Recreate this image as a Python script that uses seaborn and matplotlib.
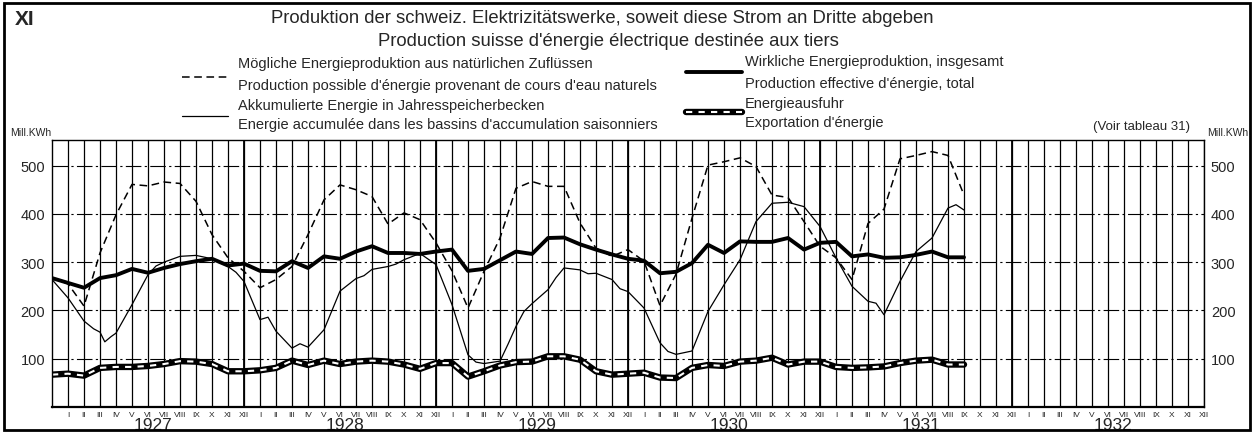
import numpy as np
import pandas as pd
import matplotlib
matplotlib.use("Agg")
import matplotlib.pyplot as plt
import matplotlib.transforms as mtransforms
from matplotlib.patches import Rectangle
import seaborn as sns

# month index: 0 = Dec 1926, 1 = Jan 1927 ... 57 = Sep 1931
months = list(range(58))

possible = [268, 255, 209, 319, 398, 461, 458, 466, 463, 426, 357, 309,
            281, 247, 264, 291, 357, 429, 460, 450, 436, 379, 402, 388,
            340, 282, 205, 281, 350, 453, 467, 457, 457, 381, 329, 312,
            326, 302, 210, 275, 391, 501, 508, 516, 498, 439, 434, 384,
            333, 309, 264, 380, 410, 514, 521, 529, 521, 439]

total = [267, 257, 247, 267, 273, 286, 278, 288, 296, 302, 307, 293,
         297, 282, 281, 302, 288, 312, 307, 322, 333, 319, 319, 317,
         322, 326, 282, 286, 304, 322, 317, 350, 351, 337, 326, 316,
         307, 303, 277, 280, 298, 336, 319, 343, 342, 342, 350, 326,
         340, 342, 312, 316, 309, 310, 315, 322, 310, 310]

export = [67, 69, 65, 81, 83, 83, 85, 89, 95, 94, 89, 74,
          74, 76, 81, 96, 87, 96, 89, 94, 96, 94, 88, 79,
          91, 91, 63, 74, 86, 93, 94, 105, 105, 98, 74, 67,
          69, 71, 61, 60, 81, 87, 85, 94, 96, 102, 88, 94,
          94, 83, 81, 82, 84, 91, 96, 98, 88, 88]

# accumulated energy is drawn at a finer (semi-monthly) resolution
acc_x = [0, 1, 2, 2.6, 3, 3.3, 3.7, 4, 5, 6, 6.5, 7, 8, 9, 10, 11, 11.5, 12,
         13, 13.5, 14, 15, 15.5, 16, 17, 18, 19, 19.5, 20, 21, 21.5, 22, 23,
         24, 25, 26, 26.5, 27, 28, 28.5, 29, 29.5, 30, 31, 31.5, 32, 33, 33.5,
         34, 35, 35.5, 36, 37, 38, 38.5, 39, 40, 41, 42, 43, 44, 45, 46, 47,
         48, 49, 50, 51, 51.5, 52, 53, 54, 55, 56, 56.5, 57]
acc_val = [264, 226, 178, 162, 155, 135, 146, 153, 212, 274, 292, 300, 312,
           314, 307, 291, 279, 260, 181, 186, 157, 122, 131, 124, 160, 240,
           266, 272, 285, 291, 296, 305, 318, 295, 212, 108, 93, 90, 95, 130,
           167, 198, 214, 243, 268, 288, 284, 276, 277, 264, 245, 239, 205,
           133, 115, 109, 116, 198, 253, 305, 384, 422, 424, 415, 374, 309,
           250, 219, 215, 191, 260, 322, 350, 412, 419, 408]

roman = ["I", "II", "III", "IV", "V", "VI", "VII", "VIII", "IX", "X", "XI", "XII"]
years = [1927, 1928, 1929, 1930, 1931, 1932]
y_ticks = [100, 200, 300, 400, 500]

df = pd.DataFrame({"month": months, "possible": possible,
                   "total": total, "export": export})
acc = pd.DataFrame({"month": acc_x, "value": acc_val})

sns.set_theme(style="white")
plt.rcParams["font.family"] = ["Liberation Sans", "DejaVu Sans"]

fig = plt.figure(figsize=(12.54, 4.35), dpi=100)
ax = fig.add_axes([52 / 1254, 27 / 435, 1152 / 1254, 267 / 435])

sns.lineplot(data=df, x="month", y="possible", ax=ax, color="black",
             lw=1.1, linestyle=(0, (5, 3)), estimator=None, sort=False)
sns.lineplot(data=acc, x="month", y="value", ax=ax, color="black",
             lw=0.9, estimator=None, sort=False)
sns.lineplot(data=df, x="month", y="total", ax=ax, color="black",
             lw=2.8, estimator=None, sort=False)
sns.lineplot(data=df, x="month", y="export", ax=ax, color="black",
             lw=4.6, estimator=None, sort=False)
sns.lineplot(data=df, x="month", y="export", ax=ax, color="white",
             lw=1.5, linestyle=(0, (3, 3)), estimator=None, sort=False)

ax.set_xlim(0, 72)
ax.set_ylim(0, 553)
ax.set_xlabel("")
ax.set_ylabel("")

# month grid and labels
ax.set_xticks(range(1, 73))
ax.set_xticklabels(roman * 6, fontsize=6)
ax.xaxis.grid(True, color="black", lw=0.9)
for m in range(12, 72, 12):
    ax.axvline(m, color="black", lw=1.3, zorder=1)
ax.set_yticks(y_ticks)
ax.set_yticklabels([str(v) for v in y_ticks], fontsize=10.5)
ax.yaxis.grid(True, color="black", lw=0.8, linestyle=(0, (14, 3, 2, 3)))
ax.tick_params(axis="both", length=0)
ax.tick_params(axis="x", pad=3)
ax.tick_params(axis="y", pad=5, labelright=True)
for s in ax.spines.values():
    s.set_color("black")
    s.set_linewidth(1.0)
ax.spines["bottom"].set_linewidth(1.6)

trans = mtransforms.blended_transform_factory(ax.transData, ax.transAxes)
for i, yr in enumerate(years):
    ax.text(12 * i + 6.3, -0.038, str(yr), transform=trans, ha="center",
            va="top", fontsize=12.5)

# header texts
fig.text(0.012, 0.955, "XI", fontsize=15, fontweight="bold", va="center")
fig.text(602 / 1254, 0.958, "Produktion der schweiz. Elektrizitätswerke, soweit diese Strom an Dritte abgeben",
         ha="center", va="center", fontsize=13.3)
fig.text(608 / 1254, 0.905, "Production suisse d'énergie électrique destinée aux tiers",
         ha="center", va="center", fontsize=13.3)

leg_fs = 10.5
lx = 238 / 1254
fig.text(lx, 1 - 64 / 435, "Mögliche Energieproduktion aus natürlichen Zuflüssen",
         fontsize=leg_fs, va="center")
fig.text(lx, 1 - 86 / 435, "Production possible d'énergie provenant de cours d'eau naturels",
         fontsize=leg_fs, va="center")
fig.text(lx, 1 - 106 / 435, "Akkumulierte Energie in Jahresspeicherbecken",
         fontsize=leg_fs, va="center")
fig.text(lx, 1 - 125 / 435, "Energie accumulée dans les bassins d'accumulation saisonniers",
         fontsize=leg_fs, va="center")
rx = 745 / 1254
fig.text(rx, 1 - 62 / 435, "Wirkliche Energieproduktion, insgesamt",
         fontsize=leg_fs, va="center")
fig.text(rx, 1 - 84 / 435, "Production effective d'énergie, total",
         fontsize=leg_fs, va="center")
fig.text(rx, 1 - 104 / 435, "Energieausfuhr", fontsize=leg_fs, va="center")
fig.text(rx, 1 - 123 / 435, "Exportation d'énergie", fontsize=leg_fs, va="center")
fig.text(1190 / 1254, 1 - 127 / 435, "(Voir tableau 31)", fontsize=9.5,
         ha="right", va="center")
fig.text(10 / 1254, 1 - 133 / 435, "Mill.KWh", fontsize=7.5, va="center")
fig.text(1207 / 1254, 1 - 133 / 435, "Mill.KWh.", fontsize=7.5, va="center")

# legend samples
def sample(x0, x1, y, **kw):
    fig.add_artist(plt.Line2D([x0 / 1254, x1 / 1254], [1 - y / 435, 1 - y / 435],
                              transform=fig.transFigure, **kw))

sample(182, 228, 78, color="black", lw=1.1, linestyle=(0, (5, 3)))
sample(182, 228, 117, color="black", lw=0.9)
sample(686, 742, 73, color="black", lw=2.8)
sample(686, 742, 113, color="black", lw=4.6)
sample(686, 742, 113, color="white", lw=1.5, linestyle=(0, (3, 3)))

# outer frame
fig.add_artist(Rectangle((4 / 1254, 4 / 435), 1246 / 1254, 427 / 435,
                         transform=fig.transFigure, fill=False,
                         edgecolor="black", lw=2.0))

fig.savefig("out.png", dpi=100)
